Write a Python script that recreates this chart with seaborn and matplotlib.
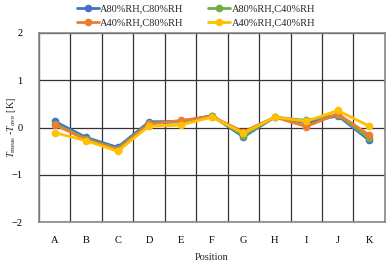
import numpy as np
import pandas as pd
import matplotlib
matplotlib.use("Agg")
import matplotlib.pyplot as plt
import seaborn as sns

positions = ["A", "B", "C", "D", "E", "F", "G", "H", "I", "J", "K"]
a80_c80 = [0.13, -0.21, -0.42, 0.12, 0.13, 0.25, -0.20, 0.22, 0.10, 0.25, -0.27]
a80_c40 = [0.08, -0.24, -0.45, 0.09, 0.12, 0.25, -0.17, 0.22, 0.15, 0.27, -0.23]
a40_c80 = [0.06, -0.26, -0.47, 0.07, 0.15, 0.23, -0.09, 0.22, 0.02, 0.29, -0.16]
a40_c40 = [-0.11, -0.28, -0.50, 0.03, 0.05, 0.22, -0.12, 0.22, 0.13, 0.36, 0.03]

series = {
    "A80%RH,C80%RH": a80_c80,
    "A80%RH,C40%RH": a80_c40,
    "A40%RH,C80%RH": a40_c80,
    "A40%RH,C40%RH": a40_c40,
}
colors = ["#4472C4", "#70AD47", "#ED7D31", "#FFC000"]

rows = []
for name, vals in series.items():
    for p, v in zip(positions, vals):
        rows.append({"Position": p, "dT": v, "case": name})
df = pd.DataFrame(rows)

sns.set_style("white")
plt.rcParams["font.family"] = ["Liberation Serif", "DejaVu Serif"]
plt.rcParams["mathtext.fontset"] = "custom"
plt.rcParams["mathtext.rm"] = "Liberation Serif"
plt.rcParams["mathtext.it"] = "Liberation Serif:italic"

fig = plt.figure(figsize=(3.92, 2.64), dpi=100)
ax = fig.add_axes([0.0995, 0.159, 0.8825, 0.716])

sns.lineplot(data=df, x="Position", y="dT", hue="case", palette=colors,
             marker="o", markersize=5.5, markeredgewidth=0, linewidth=2,
             sort=False, ax=ax, legend=False)

ax.set_xlim(-0.5, len(positions) - 0.5)
ax.set_ylim(-2, 2)
ax.set_yticks([-2, -1, 0, 1, 2])
ax.set_xticks(np.arange(len(positions)))
ax.set_xticklabels(positions)
ax.set_xticks(np.arange(len(positions) + 1) - 0.5, minor=True)
ax.grid(False)
ax.grid(which="minor", axis="x", color="#333333", linewidth=0.9)
ax.grid(which="major", axis="y", color="#333333", linewidth=0.9)
ax.set_axisbelow(True)
ax.tick_params(axis="both", which="both", length=0, labelsize=7.5, colors="black")
ax.tick_params(axis="x", pad=10)
ax.tick_params(axis="y", pad=12)
for s in ax.spines.values():
    s.set_color("#888888")
    s.set_linewidth(1.2)

ax.set_xlabel("Position", fontsize=7.5, labelpad=6)
ax.set_ylabel(r"$T_{\mathrm{meas}}$ -$T_{\mathrm{ave}}$ [K]", fontsize=7.5)
ax.yaxis.set_label_coords(-0.062, 0.5)

# legend order: blue, orange (col 1), green, yellow (col 2)
names = list(series.keys())
order = [0, 2, 1, 3]
handles = [plt.Line2D([], [], color=colors[i], marker="o", markersize=5.5,
                      markeredgewidth=0, linewidth=2) for i in order]
fig.legend(handles, [names[i] for i in order], ncol=2, loc="upper center",
           bbox_to_anchor=(0.5, 1.02), frameon=False, fontsize=7.5,
           handlelength=2.1, handletextpad=0.15, columnspacing=2.4,
           labelspacing=0.45)

fig.savefig("out.png", dpi=100)
